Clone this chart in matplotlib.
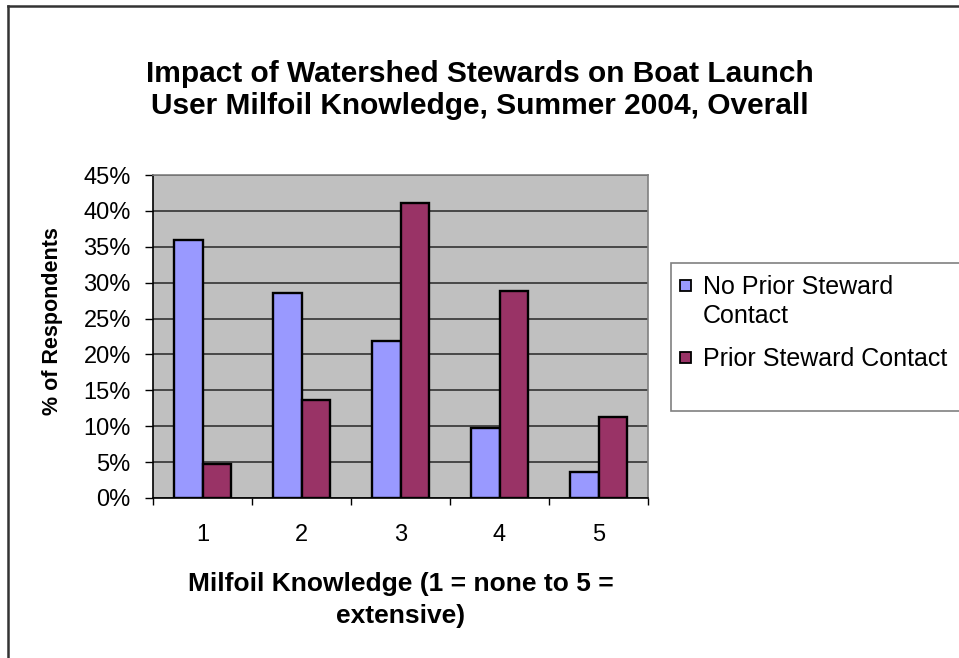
import matplotlib
matplotlib.use("Agg")
import matplotlib.pyplot as plt
import numpy as np
from matplotlib.patches import Rectangle
from matplotlib.lines import Line2D
from matplotlib.ticker import FixedLocator, NullFormatter, FuncFormatter

plt.rcParams["font.family"] = ["Liberation Sans", "DejaVu Sans"]

knowledge_levels = ["1", "2", "3", "4", "5"]
no_prior_contact = [36.0, 28.6, 21.9, 9.7, 3.6]
prior_contact = [4.7, 13.6, 41.1, 28.8, 11.3]
series_names = ["No Prior Steward\nContact", "Prior Steward Contact"]
series_colors = ["#9999FF", "#993366"]
y_ticks = [0, 5, 10, 15, 20, 25, 30, 35, 40, 45]

W, H = 959, 658
fig = plt.figure(figsize=(W / 100, H / 100), dpi=100)
fig.patch.set_facecolor("white")


def px(x, y):
    # pixel position (from top-left) -> figure fraction
    return x / W, 1 - y / H


# plot area in pixel terms
left, right, top, bottom = 153, 648, 175, 498
ax = fig.add_axes([left / W, 1 - bottom / H, (right - left) / W, (bottom - top) / H])
ax.set_facecolor("#C0C0C0")

x = np.arange(len(knowledge_levels))
bar_w = 1 / 3.5
ax.bar(x - bar_w / 2, no_prior_contact, bar_w, color=series_colors[0], edgecolor="black",
       linewidth=1.7, zorder=3)
ax.bar(x + bar_w / 2, prior_contact, bar_w, color=series_colors[1], edgecolor="black",
       linewidth=1.7, zorder=3)

ax.set_xlim(-0.5, len(knowledge_levels) - 0.5)
ax.set_ylim(0, 45)

ax.yaxis.set_major_locator(FixedLocator(y_ticks))
ax.yaxis.set_major_formatter(FuncFormatter(lambda v, _: f"{v:.0f}%"))
ax.yaxis.grid(True, color="#333333", linewidth=1.2, zorder=1)
ax.tick_params(axis="y", direction="out", length=6, width=1, pad=10, labelsize=17)

# tick marks between categories, labels at category centres
ax.xaxis.set_major_locator(FixedLocator(np.arange(-0.5, len(knowledge_levels) + 0.5, 1)))
ax.xaxis.set_major_formatter(NullFormatter())
ax.xaxis.set_minor_locator(FixedLocator(x))
ax.set_xticklabels(knowledge_levels, minor=True)
ax.tick_params(axis="x", which="major", direction="out", length=5, width=1)
ax.tick_params(axis="x", which="minor", length=0, pad=19, labelsize=17)

for side in ["top", "right"]:
    ax.spines[side].set_color("#808080")
    ax.spines[side].set_linewidth(1.2)
for side in ["left", "bottom"]:
    ax.spines[side].set_color("black")
    ax.spines[side].set_linewidth(1.2)

fig.text(*px(480, 90),
         "Impact of Watershed Stewards on Boat Launch\nUser Milfoil Knowledge, Summer 2004, Overall",
         ha="center", va="center", fontsize=21.5, fontweight="bold", linespacing=1.2)
fig.text(*px(53, 321), "% of Respondents", rotation=90, ha="center", va="center",
         fontsize=15.5, fontweight="bold")
fig.text(*px(401, 600), "Milfoil Knowledge (1 = none to 5 =\nextensive)",
         ha="center", va="center", fontsize=19, fontweight="bold", linespacing=1.4)

# legend box runs off the right edge
fig.patches.append(Rectangle(px(671, 411), 300 / W, 148 / H, transform=fig.transFigure,
                             facecolor="white", edgecolor="#808080", linewidth=1.2, zorder=0))
legend_rows = [286, 358]
for name, color, row in zip(series_names, series_colors, legend_rows):
    fig.patches.append(Rectangle(px(680, row + 5), 11 / W, 11 / H, transform=fig.transFigure,
                                 facecolor=color, edgecolor="black", linewidth=1.3, zorder=2))
    fig.text(*px(703, row - 11), name, ha="left", va="top", fontsize=18, linespacing=1.25)

# outer chart border (top and left edges visible)
fig.add_artist(Line2D([8 / W, 8 / W], [0, 1 - 6 / H], transform=fig.transFigure,
                      color="#333333", linewidth=1.8))
fig.add_artist(Line2D([8 / W, 1], [1 - 6 / H, 1 - 6 / H], transform=fig.transFigure,
                      color="#333333", linewidth=1.8))

fig.savefig("out.png", dpi=100)
plt.close(fig)
